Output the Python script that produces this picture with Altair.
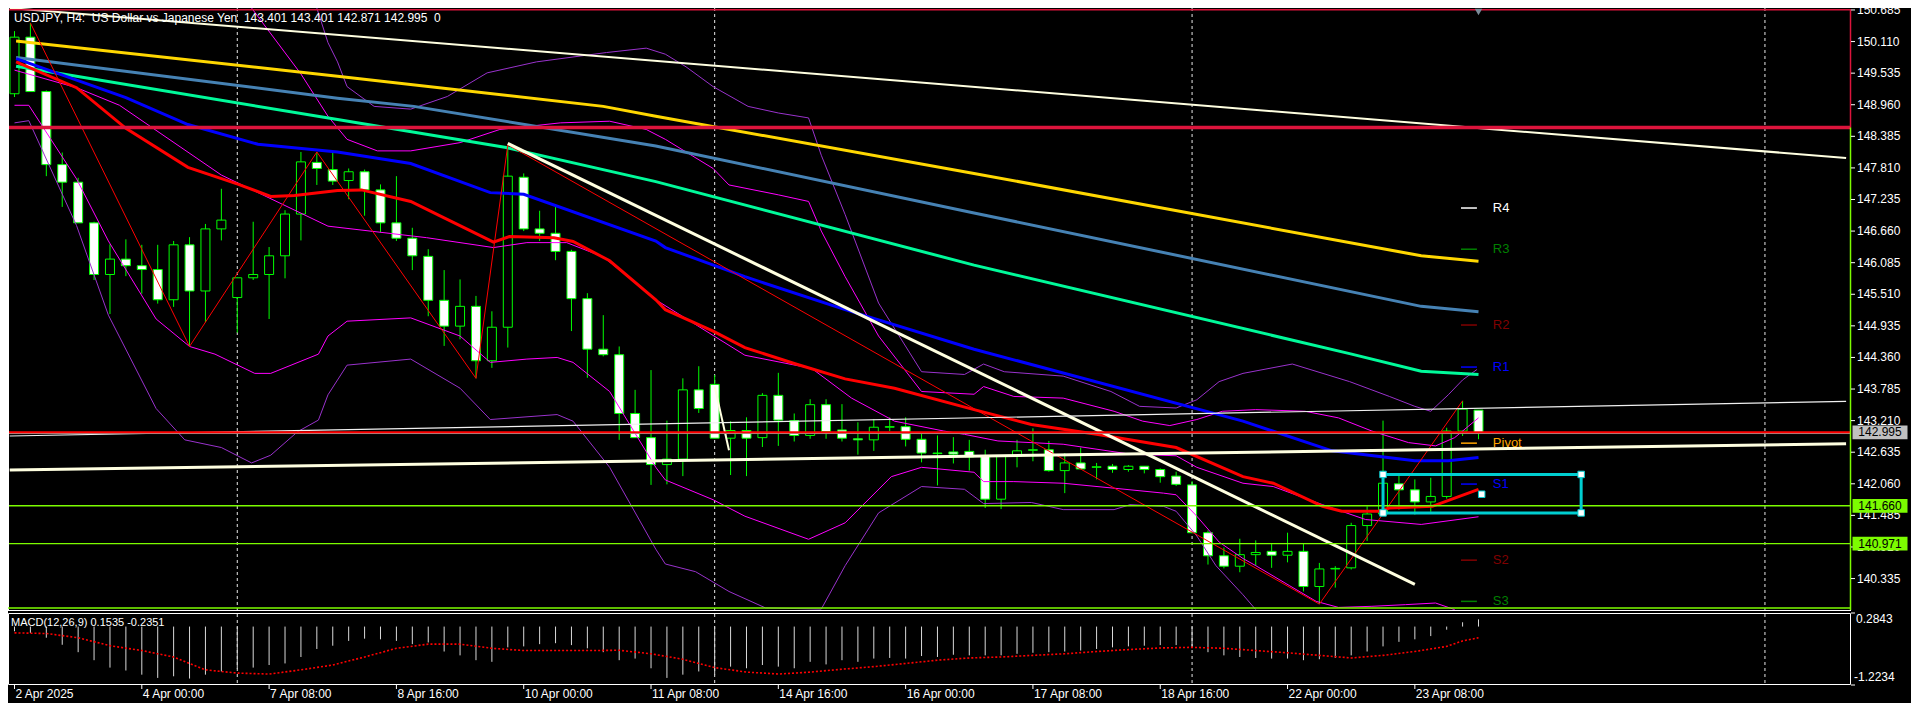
import pandas as pd
import altair as alt

# ---------------- data ----------------
BARS = list(range(93))
OPEN = [149.16,150.19,149.20,147.87,147.55,146.81,145.87,146.15,146.03,145.96,
        145.41,146.41,145.57,146.70,145.45,145.81,145.87,146.21,146.97,147.91,
        147.78,147.58,147.74,147.41,146.81,146.53,146.20,145.40,144.93,145.29,
        144.30,144.91,147.64,146.70,146.62,146.29,145.43,144.51,144.41,143.34,
        142.90,142.41,142.51,143.77,143.87,142.89,143.03,142.90,143.67,143.21,
        142.94,143.50,143.04,142.88,142.86,143.09,143.10,142.87,142.62,142.64,
        142.65,142.56,141.78,142.56,142.67,142.68,142.30,142.44,142.36,142.38,
        142.32,142.38,142.32,142.20,142.04,141.17,140.75,140.56,140.77,140.83,
        140.76,140.83,140.19,140.51,140.53,141.30,141.51,142.06,141.95,141.73,
        141.83,143.02,143.401]
HIGH = [150.30,150.45,149.22,148.09,147.63,146.83,146.42,146.51,146.41,146.41,
        146.48,146.55,146.79,147.43,145.81,146.83,146.37,147.04,148.10,148.10,
        148.09,147.80,147.78,147.51,147.66,146.72,146.33,145.95,145.78,145.48,
        145.20,148.23,147.71,147.03,147.14,146.32,145.53,145.13,144.56,143.77,
        144.13,143.21,143.98,144.20,144.04,143.20,143.27,143.71,144.08,143.34,
        143.60,143.60,143.51,143.18,143.24,143.27,143.27,142.99,142.94,142.91,
        142.86,142.68,142.58,142.86,143.07,142.84,142.62,142.72,142.44,142.42,
        142.40,142.38,142.34,142.28,142.11,141.21,140.90,141.06,141.03,140.98,
        141.17,140.98,140.62,140.56,141.35,141.65,143.21,142.22,142.14,142.17,
        143.08,143.57,143.401]
LOW = [149.10,149.20,147.66,147.10,146.81,145.77,145.15,145.84,145.52,145.34,
       145.28,144.56,145.00,146.49,144.81,145.77,145.06,145.80,146.49,147.50,
       147.50,147.24,146.94,146.64,146.48,145.95,145.11,144.57,144.69,143.98,
       144.17,144.54,146.66,146.48,146.13,144.84,143.99,144.38,142.86,142.90,
       142.04,142.05,142.20,143.35,142.89,142.22,142.20,142.73,142.75,142.83,
       142.88,142.88,142.83,142.59,142.66,143.02,142.74,142.45,142.03,142.43,
       142.30,141.62,141.60,142.36,142.47,142.28,141.89,142.33,142.14,142.26,
       142.28,142.25,142.08,142.02,141.16,140.59,140.52,140.45,140.57,140.53,
       140.63,140.10,139.87,140.17,140.50,141.02,141.51,141.59,141.50,141.55,
       141.79,142.93,142.871]
CLOSE = [150.19,149.20,147.87,147.55,146.81,145.87,146.15,146.03,145.96,145.41,
         146.41,145.57,146.70,146.86,145.81,145.87,146.21,146.97,147.92,147.80,
         147.57,147.74,147.41,146.81,146.53,146.21,145.40,144.93,145.29,144.30,
         144.91,147.66,146.70,146.62,146.29,145.43,144.51,144.41,143.34,142.90,
         142.41,142.51,143.77,143.43,142.89,143.03,142.89,143.67,143.22,142.94,
         143.50,143.01,142.89,142.86,143.09,143.10,142.87,142.62,142.61,142.60,
         142.55,141.78,142.56,142.66,142.68,142.30,142.44,142.33,142.37,142.32,
         142.38,142.32,142.19,142.05,141.17,140.75,140.56,140.77,140.81,140.76,
         140.83,140.19,140.51,140.52,141.30,141.51,142.07,141.95,141.73,141.83,
         143.02,143.42,142.995]

# moving averages (bar, price)
MA_GOLD = [(0.1,150.12),(20.3,149.48),(37.0,148.93),(40.3,148.75),(60.3,147.71),(88.4,146.21),(92.0,146.11)]
MA_STEEL = [(0.1,149.82),(20.3,149.08),(25.1,148.93),(40.3,148.21),(60.3,146.99),(88.4,145.29),(92.0,145.19)]
MA_SPRING = [(0.1,149.66),(20.3,148.69),(30.9,148.18),(40.3,147.56),(60.3,146.04),(83.9,144.43),(88.4,144.11),(92.0,144.05)]
MA_BLUE = [(0.1,149.80),(7.0,149.09),(10.9,148.60),(15.3,148.24),(20.3,148.10),(24.9,147.89),(29.9,147.36),
           (32.0,147.33),(40.3,146.48),(40.9,146.36),(45.9,145.83),(52.2,145.23),(60.3,144.51),(77.2,143.20),
           (82.8,142.66),(88.0,142.48),(90.1,142.48),(92.0,142.54)]
MA_RED = [(0.1,149.74),(3.9,149.27),(7.0,148.53),(10.9,147.82),(13.9,147.53),(16.1,147.29),(17.6,147.31),
          (20.3,147.40),(21.8,147.41),(24.9,147.20),(27.0,146.90),(30.1,146.46),(31.1,146.56),(33.9,146.54),
          (35.1,146.47),(37.4,146.12),(40.3,145.41),(40.9,145.23),(43.9,144.84),(45.9,144.54),(49.1,144.24),
          (52.2,143.97),(55.3,143.80),(60.3,143.41),(63.9,143.14),(68.0,142.96),(73.0,142.72),(77.2,142.19),
          (79.1,142.07),(82.2,141.65),(83.4,141.56),(85.7,141.56),(86.4,141.62),(89.1,141.65),(90.5,141.80),
          (92.0,141.96)]

# Bollinger bands
BB_MAG_UP = [(14.9,150.72),(18.0,149.52),(19.7,148.75),(20.9,148.33),(22.8,148.12),(24.9,148.12),(28.0,148.27),
             (30.5,148.51),(34.3,148.63),(37.4,148.66),(39.7,148.51),(40.9,148.33),(43.9,147.80),(44.9,147.50),
             (48.0,147.32),(49.9,147.20),(50.7,146.66),(52.2,145.83),(54.3,144.75),(57.0,143.74),(60.3,143.69),
             (60.9,143.83),(62.8,143.65),(65.9,143.62),(69.1,143.38),(70.9,143.20),(72.6,143.12),(74.3,143.23),
             (75.9,143.38),(78.0,143.41),(81.1,143.38),(83.2,143.26),(85.3,143.02),(87.6,142.81),(89.3,142.75),
             (90.5,142.90),(92.0,143.26)]
BB_MAG_MID = [(0.0,149.59),(3.9,149.27),(6.6,148.95),(13.0,147.68),(19.7,146.75),(25.9,146.54),(30.1,146.36),
              (32.2,146.45),(34.7,146.45),(37.0,146.19),(39.7,145.56),(40.3,145.41),(45.9,144.40),(50.1,144.16),
              (52.6,143.62),(55.3,143.20),(58.4,143.02),(59.7,142.96),(61.8,142.84),(65.9,142.78),(70.1,142.60),
              (73.0,142.57),(74.3,142.36),(77.2,142.07),(79.1,142.01),(82.2,141.68),(84.9,141.41),(88.4,141.32),
              (92.0,141.46)]
BB_MAG_LOW = [(0.0,148.95),(0.9,148.95),(3.9,147.61),(5.9,146.48),(8.9,145.06),(11.0,144.56),(12.6,144.42),
              (15.1,144.07),(16.1,144.07),(19.1,144.42),(19.7,144.75),(20.9,145.02),(24.9,145.08),(28.0,144.75),
              (29.9,144.27),(32.2,144.33),(34.1,144.36),(35.1,144.27),(37.4,143.74),(40.3,142.36),(40.9,142.13),
              (43.9,141.77),(45.9,141.47),(49.9,141.05),(52.2,141.35),(55.1,142.19),(57.0,142.36),(60.3,142.27),
              (60.9,142.10),(62.8,142.10),(65.9,142.07),(69.1,141.98),(72.2,141.89),(73.0,141.86),(74.3,141.47),
              (75.7,141.00),(77.2,140.70),(78.0,140.57),(80.1,140.21),(81.8,139.92),(83.2,139.81),(85.3,139.83),
              (87.4,139.86),(89.3,139.89),(90.5,139.77)]
BB_PUR_UP = [(19.0,150.72),(19.7,150.09),(20.3,149.74),(20.9,149.29),(22.6,148.93),(24.9,148.88),(27.2,149.11),
             (29.7,149.54),(32.8,149.74),(37.2,149.91),(39.7,149.99),(40.9,149.88),(42.2,149.65),(43.9,149.29),
             (46.1,148.93),(48.0,148.81),(49.9,148.72),(50.7,148.04),(52.2,146.96),(54.3,145.35),(57.0,144.10),
             (59.7,144.05),(60.9,144.24),(62.2,144.10),(65.9,144.02),(68.9,143.74),(70.7,143.47),(73.0,143.44),
             (74.3,143.59),(75.7,143.92),(77.2,144.07),(80.3,144.24),(83.9,143.92),(86.4,143.65),(88.0,143.47),
             (89.0,143.38),(90.1,143.68),(91.0,143.95),(91.9,144.14)]
BB_PUR_LOW = [(0.0,148.63),(0.9,148.67),(3.9,146.76),(5.9,145.13),(8.9,143.43),(10.7,142.86),(13.0,142.72),
              (14.9,142.44),(16.1,142.58),(17.8,143.01),(19.1,143.22),(19.7,143.68),(20.9,144.22),(24.9,144.33),
              (28.0,143.80),(29.9,143.23),(34.1,143.32),(35.1,143.20),(37.4,142.36),(40.3,140.87),(40.9,140.60),
              (42.8,140.46),(44.9,140.10),(47.2,139.80),(50.7,139.78),(52.2,140.57),(54.3,141.53),(57.0,142.01),
              (59.7,141.96),(60.9,141.70),(63.9,141.72),(65.9,141.59),(69.1,141.59),(70.1,141.68),(72.2,141.65),
              (73.0,141.56),(74.3,141.11),(75.5,140.57),(77.2,140.04),(78.0,139.77)]

ZIGZAG = [(1,150.45),(11,144.56),(19,148.10),(29,143.98),(31,148.23),(82,139.87),(91,143.57)]

# drawn objects
TL_TOP = [(-0.3,150.72),(115.1,147.99)]
TL_DIAG = [(31.0,148.255),(88.0,140.23)]
TL_SHORT = [(44.0,143.83),(44.9,142.67)]
CH_UPPER = [(-0.3,142.93),(115.1,143.56)]
CH_LOWER = [(-0.3,142.31),(115.1,142.79)]

RED_LEVEL = 142.995
GREEN_LEVELS = [141.660, 140.971]
ZONE_TOP, ZONE_BOTTOM = 150.69, 148.545
BOX_BARS = [86.0, 98.45]
BOX_PRICES = [142.23, 141.53]
HANDLE = (92.2, 141.87)

PIVOT_NAMES = ["R4", "R3", "R2", "R1", "Pivot", "S1", "S2", "S3"]
PIVOT_PRICES = [147.08, 146.33, 144.95, 144.185, 142.80, 142.055, 140.67, 139.92]
PIVOT_COLORS = ["#FFFFFF", "#008000", "#800000", "#0000FF", "#FFA500", "#0000FF", "#800000", "#008000"]

PRICE_TAGS = ["142.995", "141.660", "140.971"]
PRICE_TAG_VALUES = [142.995, 141.660, 140.971]
PRICE_TAG_COLORS = ["#C0C0C0", "#7CFC00", "#7CFC00"]

YTICKS = [150.685,150.110,149.535,148.960,148.385,147.810,147.235,146.660,146.085,145.510,
          144.935,144.360,143.785,143.210,142.635,142.060,141.485,140.910,140.335]
YTICK_LABELS = ["150.685","150.110","149.535","148.960","148.385","147.810","147.235","146.660","146.085",
                "145.510","144.935","144.360","143.785","143.210","142.635","142.060","141.485","140.910","140.335"]

SEP_BARS = [14, 44, 74, 110]
TIME_BARS = [0, 8, 16, 24, 32, 40, 48, 56, 64, 72, 80, 88]
TIME_LABELS = ["2 Apr 2025", "4 Apr 00:00", "7 Apr 08:00", "8 Apr 16:00", "10 Apr 00:00", "11 Apr 08:00",
               "14 Apr 16:00", "16 Apr 00:00", "17 Apr 08:00", "18 Apr 16:00", "22 Apr 00:00", "23 Apr 08:00"]

MACD_HIST = [-0.098,-0.132,-0.233,-0.381,-0.536,-0.704,-0.859,-0.920,-1.007,-1.075,
             -1.041,-1.088,-1.007,-0.940,-0.886,-0.859,-0.805,-0.772,-0.637,-0.469,
             -0.401,-0.300,-0.253,-0.267,-0.300,-0.368,-0.334,-0.522,-0.603,-0.704,
             -0.738,-0.435,-0.415,-0.368,-0.348,-0.388,-0.455,-0.536,-0.704,-0.670,
             -0.873,-1.075,-1.007,-0.940,-1.007,-0.839,-0.873,-0.805,-0.839,-0.873,
             -0.738,-0.792,-0.704,-0.738,-0.670,-0.657,-0.670,-0.617,-0.637,-0.590,
             -0.603,-0.603,-0.603,-0.570,-0.549,-0.536,-0.522,-0.502,-0.469,-0.435,
             -0.415,-0.401,-0.388,-0.388,-0.415,-0.536,-0.603,-0.637,-0.657,-0.670,
             -0.670,-0.704,-0.684,-0.657,-0.603,-0.522,-0.415,-0.320,-0.267,-0.199,
             -0.065,0.090,0.151]
SIG_BARS = [0,2,4,6,8,10,12,14,16,18,20,22,24,26,28,30,32,34,36,38,40,42,44,46,48,50,52,54,56,58,
            60,62,64,66,68,70,72,74,76,78,80,82,84,86,88,90,91,92]
SIG_VALS = [-0.132,-0.145,-0.233,-0.401,-0.502,-0.637,-0.906,-0.974,-0.994,-0.906,-0.805,-0.637,-0.455,
            -0.368,-0.368,-0.455,-0.502,-0.502,-0.502,-0.496,-0.570,-0.684,-0.859,-0.953,-0.994,-0.953,
            -0.893,-0.839,-0.772,-0.704,-0.657,-0.637,-0.603,-0.570,-0.522,-0.482,-0.448,-0.435,-0.455,
            -0.502,-0.549,-0.603,-0.657,-0.603,-0.522,-0.415,-0.300,-0.235]
MACD_MAX, MACD_MIN = 0.2843, -1.2234

TITLE = "USDJPY, H4:\u00a0 US Dollar vs Japanese Yen\u00a0 143.401 143.401 142.871 142.995\u00a0 0"
MACD_TITLE = "MACD(12,26,9) 0.1535 -0.2351"

# ---------------- layout ----------------
W = 1843
H_MAIN = 602
M_TOP, M_BOT = 605, 677
FONT = "Liberation Sans"
LIME = "#00FF00"
CREAM = "#FFFFE0"
CYAN = "#00CED1"

XS = alt.Scale(domain=[-0.09375, 115.09375], nice=False, zero=False)
YS = alt.Scale(domain=[139.7628, 150.7208], range=[H_MAIN, 0], nice=False, zero=False)
MS = alt.Scale(domain=[MACD_MIN, MACD_MAX], range=[M_BOT, M_TOP], nice=False, zero=False)


def X(field="bar"):
    return alt.X(f"{field}:Q", scale=XS, axis=None)


def Y(field="price"):
    return alt.Y(f"{field}:Q", scale=YS, axis=None)


def one():
    return pd.DataFrame({"k": [0]})


def pline(pts, color, width, dash=None):
    df = pd.DataFrame(pts, columns=["bar", "price"])
    kw = dict(color=color, strokeWidth=width)
    if dash:
        kw["strokeDash"] = dash
    return alt.Chart(df).mark_line(**kw).encode(x=X(), y=Y(), order="bar:Q")


candles = pd.DataFrame({"bar": BARS, "open": OPEN, "high": HIGH, "low": LOW, "close": CLOSE})
candles["dir"] = ["up" if c >= o else "down" for o, c in zip(OPEN, CLOSE)]

seps = alt.Chart(pd.DataFrame({"bar": SEP_BARS})).mark_rule(
    color="#E8E8E8", strokeWidth=1, strokeDash=[3, 3]).encode(
    x=X(), y=alt.value(0), y2=alt.value(M_BOT))

wicks = alt.Chart(candles).mark_rule(color=LIME, strokeWidth=1).encode(
    x=X(), y=Y("low"), y2="high:Q")
bodies = alt.Chart(candles).mark_bar(size=9, stroke=LIME, strokeWidth=1).encode(
    x=X(), y=Y("open"), y2="close:Q",
    fill=alt.Fill("dir:N", scale=alt.Scale(domain=["up", "down"], range=["#000000", "#FFFFFF"]), legend=None))

bands = [
    pline(BB_PUR_UP, "#9932CC", 1), pline(BB_PUR_LOW, "#9932CC", 1),
    pline(BB_MAG_UP, "#FF00FF", 1), pline(BB_MAG_MID, "#FF00FF", 1), pline(BB_MAG_LOW, "#FF00FF", 1),
]
mas = [
    pline(MA_GOLD, "#FFD700", 3), pline(MA_STEEL, "#4682B4", 3), pline(MA_SPRING, "#00FA9A", 3),
    pline(MA_BLUE, "#0000FF", 3), pline(MA_RED, "#FF0000", 3),
]
zig = pline(ZIGZAG, "#FF0000", 1)
tls = [pline(TL_TOP, CREAM, 2), pline(TL_DIAG, CREAM, 3), pline(TL_SHORT, CREAM, 2),
       pline(CH_UPPER, "#F0F0F0", 1.2), pline(CH_LOWER, CREAM, 3)]

bid_line = alt.Chart(pd.DataFrame({"price": [RED_LEVEL - 0.02]})).mark_rule(
    color="#A0A0A0", strokeWidth=1).encode(y=Y())
red_line = alt.Chart(pd.DataFrame({"price": [RED_LEVEL + 0.005]})).mark_rule(
    color="#FF0000", strokeWidth=2).encode(y=Y())
green_lines = alt.Chart(pd.DataFrame({"price": GREEN_LEVELS})).mark_rule(
    color="#7CFC00", strokeWidth=1.3).encode(y=Y())

zone_top = alt.Chart(pd.DataFrame({"price": [ZONE_TOP]})).mark_rule(
    color="#DC143C", strokeWidth=1.5).encode(y=Y())
zone_bottom = alt.Chart(pd.DataFrame({"price": [ZONE_BOTTOM]})).mark_rule(
    color="#DC143C", strokeWidth=3.5).encode(y=Y())
zone_right = alt.Chart(pd.DataFrame({"p1": [ZONE_TOP], "p2": [ZONE_BOTTOM]})).mark_rule(
    color="#DC143C", strokeWidth=1.5).encode(x=alt.value(W - 0.5), y=Y("p1"), y2="p2:Q")
green_right = alt.Chart(pd.DataFrame({"p1": [ZONE_BOTTOM]})).mark_rule(
    color="#7CFC00", strokeWidth=1.5).encode(x=alt.value(W - 0.5), y=Y("p1"), y2=alt.value(H_MAIN))

box_df = pd.DataFrame({"x1": [BOX_BARS[0]], "x2": [BOX_BARS[1]], "y1": [BOX_PRICES[0]], "y2": [BOX_PRICES[1]]})
cyan_box = alt.Chart(box_df).mark_rect(filled=False, color=CYAN, strokeWidth=3).encode(
    x=X("x1"), x2="x2:Q", y=Y("y1"), y2="y2:Q")
handles_df = pd.DataFrame({
    "bar": [BOX_BARS[0], BOX_BARS[0], BOX_BARS[1], BOX_BARS[1], HANDLE[0]],
    "price": [BOX_PRICES[0], BOX_PRICES[1], BOX_PRICES[0], BOX_PRICES[1], HANDLE[1]],
})
handles = alt.Chart(handles_df).mark_point(shape="square", size=42, filled=True, fill="white",
                                           stroke=CYAN, strokeWidth=1, opacity=1).encode(x=X(), y=Y())

piv_df = pd.DataFrame({"name": PIVOT_NAMES, "price": PIVOT_PRICES, "col": PIVOT_COLORS})
piv_lines = alt.Chart(piv_df).mark_rule(strokeWidth=1.5).encode(
    x=alt.XDatum(90.9, scale=XS, axis=None), x2=alt.X2Datum(91.9), y=Y(),
    color=alt.Color("col:N", scale=None))
piv_text = alt.Chart(piv_df).mark_text(align="left", baseline="middle", font=FONT, fontSize=13).encode(
    x=alt.XDatum(92.9, scale=XS, axis=None), y=Y(), text="name:N", color=alt.Color("col:N", scale=None))

frames = [
    alt.Chart(one()).mark_rule(color="white", strokeWidth=1).encode(
        x=alt.value(0.5), y=alt.value(0), y2=alt.value(H_MAIN)),
    alt.Chart(one()).mark_rule(color="#7CFC00", strokeWidth=1.5).encode(
        x=alt.value(0), x2=alt.value(W), y=alt.value(H_MAIN - 2)),
    alt.Chart(one()).mark_rule(color="white", strokeWidth=1).encode(
        x=alt.value(0), x2=alt.value(W), y=alt.value(H_MAIN + 0.5)),
]

# price scale (right side) drawn as text + ticks
yt_df = pd.DataFrame({"price": YTICKS, "t": YTICK_LABELS})
ytick_marks = alt.Chart(yt_df).mark_rule(color="white", strokeWidth=1).encode(
    x=alt.value(W), x2=alt.value(W + 4), y=Y())
ytick_text = alt.Chart(yt_df).mark_text(align="left", baseline="middle", font=FONT, fontSize=12,
                                        color="white").encode(x=alt.value(W + 6), y=Y(), text="t:N")

title = alt.Chart(pd.DataFrame({"t": [TITLE]})).mark_text(
    align="left", baseline="middle", font=FONT, fontSize=12, color="white").encode(
    x=alt.value(6), y=alt.value(10), text="t:N")
marker = alt.Chart(one()).mark_point(
    shape="triangle-down", size=55, filled=True, color="#7A8B99", opacity=1).encode(
    x=alt.XDatum(92, scale=XS, axis=None), y=alt.value(4))

TAG_PATH = "M-1,-0.25L1,-0.25L1,0.25L-1,0.25Z"
tags_df = pd.DataFrame({"label": PRICE_TAGS, "price": PRICE_TAG_VALUES, "bg": PRICE_TAG_COLORS})
tag_bg = alt.Chart(tags_df).mark_point(shape=TAG_PATH, size=3025, filled=True, opacity=1).encode(
    x=alt.value(W + 29), y=Y(), color=alt.Color("bg:N", scale=None))
tag_text = alt.Chart(tags_df).mark_text(font=FONT, fontSize=12, color="black", align="center",
                                        baseline="middle").encode(
    x=alt.value(W + 29), y=Y(), text="label:N")

main = alt.layer(seps, wicks, bodies, *bands, *mas, zig, *tls, bid_line, red_line, green_lines,
                 zone_top, zone_bottom, zone_right, green_right, cyan_box, handles, piv_lines, piv_text,
                 *frames, ytick_marks, ytick_text, title, marker, tag_bg, tag_text)

# ---------------- MACD panel ----------------
hist_df = pd.DataFrame({"bar": BARS, "v": MACD_HIST})
sig_df = pd.DataFrame({"bar": SIG_BARS, "v": SIG_VALS})
hist = alt.Chart(hist_df).mark_rule(color="#D8D8D8", strokeWidth=1).encode(
    x=X(), y=alt.Y("v:Q", scale=MS, axis=None), y2=alt.Y2Datum(0))
sig = alt.Chart(sig_df).mark_line(color="#FF0000", strokeWidth=1.6, strokeDash=[2, 2]).encode(
    x=X(), y=alt.Y("v:Q", scale=MS, axis=None), order="bar:Q")
macd_frame = alt.Chart(one()).mark_rect(filled=False, color="white", strokeWidth=1).encode(
    x=alt.value(0.5), x2=alt.value(W - 0.5), y=alt.value(M_TOP + 0.5), y2=alt.value(M_BOT - 0.5))
mlab_df = pd.DataFrame({"v": [MACD_MAX, MACD_MIN], "t": ["0.2843", "-1.2234"]})
macd_ticks = alt.Chart(mlab_df).mark_rule(color="white").encode(
    x=alt.value(W), x2=alt.value(W + 4), y=alt.Y("v:Q", scale=MS, axis=None))
macd_top_lab = alt.Chart(mlab_df.iloc[[0]]).mark_text(
    align="left", baseline="top", font=FONT, fontSize=12, color="white", dy=1).encode(
    x=alt.value(W + 5), y=alt.Y("v:Q", scale=MS, axis=None), text="t:N")
macd_bot_lab = alt.Chart(mlab_df.iloc[[1]]).mark_text(
    align="left", baseline="bottom", font=FONT, fontSize=12, color="white", dy=-1).encode(
    x=alt.value(W + 3), y=alt.Y("v:Q", scale=MS, axis=None), text="t:N")
macd_title = alt.Chart(pd.DataFrame({"t": [MACD_TITLE]})).mark_text(
    align="left", baseline="middle", font=FONT, fontSize=11, color="white").encode(
    x=alt.value(3), y=alt.value(M_TOP + 10), text="t:N")

# time scale (bottom) drawn as text + ticks
tt_df = pd.DataFrame({"bar": TIME_BARS, "t": TIME_LABELS})
time_ticks = alt.Chart(tt_df).mark_rule(color="white", strokeWidth=1).encode(
    x=X(), y=alt.value(M_BOT), y2=alt.value(M_BOT + 4))
time_text = alt.Chart(tt_df).mark_text(align="left", baseline="top", font=FONT, fontSize=12,
                                       color="white", dx=1).encode(
    x=X(), y=alt.value(M_BOT + 4), text="t:N")

macd = alt.layer(hist, sig, macd_frame, macd_ticks, macd_top_lab, macd_bot_lab, macd_title,
                 time_ticks, time_text)

chart = alt.layer(main, macd).resolve_scale(y="independent").properties(
    width=W, height=M_BOT,
    autosize=alt.AutoSizeParams(type="none"),
    padding={"left": 0, "top": 0, "right": 60, "bottom": 18},
    background="black",
).configure_view(strokeWidth=0)

chart.save("out.html", embed_options={"renderer": "svg", "actions": False})
